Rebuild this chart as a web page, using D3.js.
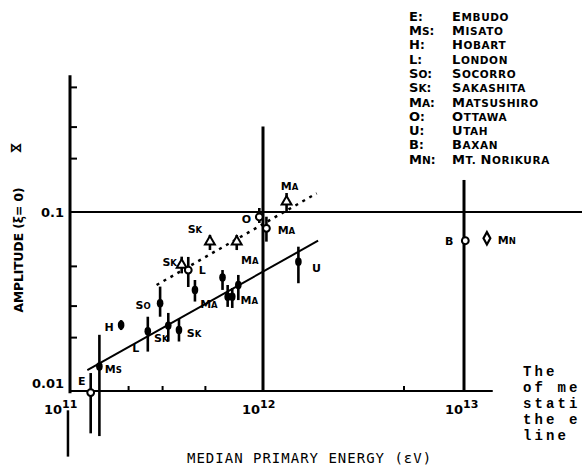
<!DOCTYPE html>
<html><head><meta charset="utf-8">
<script src="https://cdn.jsdelivr.net/npm/d3@7"></script>
<style>
body{margin:0;background:#fff}
svg{display:block;background:#fff}
text{white-space:pre}
</style>
</head><body>
<svg id="c" width="582" height="466"></svg>
<script>
// ---------------- data ----------------
// station key & label for each measured point
const pointStation = ["E","Ms","H","L","So","Sk","Sk","MA","MA","MA","MA","MA","U","Sk","L","Sk","MA","O","MA","MA","B","MN"];
const pointLabel   = ["E","Ms","H","L","So","Sk","Sk","MA","","","","MA","U","Sk","L","Sk","MA","O","MA","MA","B","MN"];
// median primary energy (eV)
const pointEnergy  = [1.28e11,1.42e11,1.84e11,2.53e11,2.93e11,3.23e11,3.67e11,4.44e11,6.17e11,6.56e11,6.93e11,7.45e11,1.5e12,3.79e11,4.1e11,5.31e11,7.31e11,9.57e11,1.04e12,1.31e12,1.015e13,1.3e13];
// amplitude (xi = 0)
const pointAmp     = [0.0098,0.0137,0.0234,0.0216,0.0309,0.0232,0.0219,0.0367,0.0431,0.0336,0.0336,0.0391,0.0528,0.0506,0.0474,0.0683,0.0683,0.0938,0.0811,0.1141,0.0691,0.0713];
const errLow       = [0.0058,0.0056,0.0219,0.0166,0.026,0.0189,0.0189,0.0316,0.0367,0.0295,0.0291,0.0322,0.04,0.0454,0.0381,0.0613,0.0613,0.0868,0.0683,0.1004,null,null];
const errHigh      = [0.0126,0.0206,0.0249,0.026,0.0383,0.0273,0.0253,0.0417,0.0474,0.0391,0.0376,0.0445,0.064,0.0563,0.0561,0.0744,0.0744,0.1053,0.0941,0.1277,null,null];
// symbol type: f = filled circle, o = open circle, t = open triangle, d = open diamond
const pointSymbol  = ["o","f","f","f","f","f","f","f","f","f","f","f","f","t","o","t","t","o","o","t","o","d"];

// fitted lines
const solidFit  = [[1.23e11,0.0131],[1.88e12,0.0691]];
const dashedFit = [[2.81e11,0.0391],[1.85e12,0.1272]];

// long vertical bars at 1e12 and 1e13
const vLineEnergy = [1e12, 1e13];
const vLineTop    = [0.3, 0.151];
const vLineBottom = [0.01, 0.01];

// axes
const yMinorTicks = [0.02,0.03,0.05,0.2,0.3,0.5];
const yMajorTicks = [0.01,0.1];
const yMajorLabels = ["0.01","0.1"];
const xMinorTicks = [2e11,3e11,5e11,5e12];
const xMajorTicks = [1e11,1e12,1e13];
const xMajorExp   = ["11","12","13"];

// legend
const legendKeys  = ["E","Ms","H","L","So","Sk","MA","O","U","B","MN"];
const legendNames = ["EMBUDO","MISATO","HOBART","LONDON","SOCORRO","SAKASHITA","MATSUSHIRO","OTTAWA","UTAH","BAXAN","MT. NORIKURA"];

const sideText = ["The","of me","stati","the e","line"];

// ---------------- drawing ----------------
const svg = d3.select("#c");
const x = d3.scaleLog().domain([1e11,1e12,1e13]).range([70,263,464]);
const y = d3.scaleLog().domain([0.01,0.1]).range([391,212]);
const sans = "DejaVu Sans, sans-serif";

function capsText(sel, str, big, small) {
  str.split(/(\s+)/).forEach(w => {
    if (!w) return;
    if (!w.trim()) { sel.append("tspan").attr("font-size", small).text(w); return; }
    sel.append("tspan").attr("font-size", big).text(w[0].toUpperCase());
    if (w.length > 1) sel.append("tspan").attr("font-size", small).text(w.slice(1).toUpperCase());
  });
}

const g = svg.append("g");

// axes lines
g.append("line").attr("x1", x(1e11)).attr("x2", x(1e11)).attr("y1", y(0.58)).attr("y2", y(0.0097))
  .attr("stroke","#000").attr("stroke-width",3);
g.append("line").attr("x1", x(1e11)).attr("x2", x(1.39e13)).attr("y1", y(0.01)).attr("y2", y(0.01))
  .attr("stroke","#000").attr("stroke-width",2);
g.append("line").attr("x1", x(1e11)).attr("x2", x(4e13)).attr("y1", y(0.1)).attr("y2", y(0.1))
  .attr("stroke","#000").attr("stroke-width",2);
// stray segment below axis
g.append("line").attr("x1", x(0.976e11)).attr("x2", x(0.976e11)).attr("y1", y(0.0078)).attr("y2", y(0.0043))
  .attr("stroke","#000").attr("stroke-width",2.5);

// minor ticks (via d3 axes)
const yAx = d3.axisRight(y).tickValues(yMinorTicks).tickSize(7).tickFormat("");
g.append("g").attr("transform", `translate(${x(1e11)},0)`).call(yAx)
  .call(s => s.select(".domain").remove())
  .call(s => s.selectAll("line").attr("stroke","#000").attr("stroke-width",2));
const xAx = d3.axisTop(x).tickValues(xMinorTicks).tickSize(5).tickFormat("");
g.append("g").attr("transform", `translate(0,${y(0.01)})`).call(xAx)
  .call(s => s.select(".domain").remove())
  .call(s => s.selectAll("line").attr("stroke","#000").attr("stroke-width",2));

// y labels
yMajorTicks.forEach((v,i) => {
  g.append("text").attr("x", 64).attr("y", y(v) + (v === 0.01 ? -8 : 0)).attr("dy","0.36em")
    .attr("text-anchor","end").attr("font-family",sans).attr("font-weight","bold").attr("font-size",13)
    .text(yMajorLabels[i]);
});
// x labels
const xLabelShift = [26, 21, 19];
xMajorTicks.forEach((v,i) => {
  const t = g.append("text").attr("x", x(v) - xLabelShift[i]).attr("y", 414)
    .attr("font-family",sans).attr("font-weight","bold").attr("font-size",13);
  t.append("tspan").text("10");
  t.append("tspan").attr("dy",-6).attr("font-size",11).text(xMajorExp[i]);
});

// axis titles
g.append("text").attr("x", 187).attr("y", 463).attr("font-family","DejaVu Sans Mono, monospace")
  .attr("font-size",14).attr("letter-spacing",1).text("MEDIAN PRIMARY ENERGY (εV)");
g.append("text").attr("transform","translate(23,250) rotate(-90)").attr("text-anchor","middle")
  .attr("font-family",sans).attr("font-weight","bold").attr("font-size",13)
  .attr("textLength",125).attr("lengthAdjust","spacingAndGlyphs").text("AMPLITUDE (ξ= 0)");
g.append("text").attr("x",16).attr("y",147).attr("dy","0.36em").attr("text-anchor","middle")
  .attr("font-family",sans).attr("font-weight","bold").attr("font-size",13).text("⋈");

// long vertical bars
vLineEnergy.forEach((e,i) => {
  g.append("line").attr("x1", x(e)).attr("x2", x(e)).attr("y1", y(vLineTop[i])).attr("y2", y(vLineBottom[i]))
    .attr("stroke","#000").attr("stroke-width",3);
});

// fits
const lineGen = d3.line().x(d => x(d[0])).y(d => y(d[1]));
g.append("path").attr("d", lineGen(solidFit)).attr("stroke","#000").attr("stroke-width",2).attr("fill","none");
g.append("path").attr("d", lineGen(dashedFit)).attr("stroke","#000").attr("stroke-width",2.5)
  .attr("stroke-dasharray","3,5").attr("fill","none");

// error bars
pointEnergy.forEach((e,i) => {
  if (errLow[i] == null) return;
  g.append("line").attr("x1", x(e)).attr("x2", x(e)).attr("y1", y(errLow[i])).attr("y2", y(errHigh[i]))
    .attr("stroke","#000").attr("stroke-width",2.6);
});

// markers
pointEnergy.forEach((e,i) => {
  const cx = x(e), cy = y(pointAmp[i]), s = pointSymbol[i];
  if (s === "f") {
    g.append("ellipse").attr("cx",cx).attr("cy",cy).attr("rx",3.3).attr("ry",4.2).attr("fill","#000");
  } else if (s === "o") {
    g.append("circle").attr("cx",cx).attr("cy",cy).attr("r",3.4).attr("fill","#fff").attr("stroke","#000").attr("stroke-width",2);
  } else if (s === "t") {
    g.append("path").attr("transform",`translate(${cx},${cy})`).attr("d", d3.symbol(d3.symbolTriangle).size(42)())
      .attr("fill","#fff").attr("stroke","#000").attr("stroke-width",2);
  } else if (s === "d") {
    g.append("path").attr("transform",`translate(${cx},${cy}) scale(1,1.05)`).attr("d", d3.symbol(d3.symbolDiamond).size(40)())
      .attr("fill","#fff").attr("stroke","#000").attr("stroke-width",2.2);
  }
});

// point labels (offsets from marker)
const labelOffset = [[-9,-13],[14,1],[-12,0],[-12,15],[-17,0],[-7,11],[15,1],[14,12],[0,0],[0,0],[0,0],[11,13],[18,5],[-12,-5],[14,-2],[-15,-14],[13,17],[-13,0],[20,0],[3,-18],[-16,-1],[20,0]];
pointLabel.forEach((lab,i) => {
  if (!lab) return;
  const t = g.append("text").attr("x", x(pointEnergy[i]) + labelOffset[i][0]).attr("y", y(pointAmp[i]) + labelOffset[i][1])
    .attr("dy","0.36em").attr("text-anchor","middle").attr("font-family",sans).attr("font-weight","bold");
  capsText(t, lab, 11, 8.5);
});

// legend
legendKeys.forEach((k,i) => {
  const yy = 15 + i*14.3;
  const t1 = g.append("text").attr("x",409).attr("y",yy).attr("dy","0.36em").attr("font-family",sans).attr("font-weight","bold");
  capsText(t1, k, 13, 10.5);
  t1.append("tspan").attr("font-size",12).text(":");
  const t2 = g.append("text").attr("x",452).attr("y",yy).attr("dy","0.36em").attr("font-family",sans)
    .attr("font-weight","bold").attr("letter-spacing",0.6);
  capsText(t2, legendNames[i], 13, 10.5);
});

// side paragraph text (cut by page edge)
sideText.forEach((s,i) => {
  g.append("text").attr("x",523).attr("y",376 + i*16).attr("font-family","Liberation Mono, monospace")
    .attr("font-weight","bold").attr("font-size",14).attr("letter-spacing",3.1).text(s);
});
</script>
</body></html>
